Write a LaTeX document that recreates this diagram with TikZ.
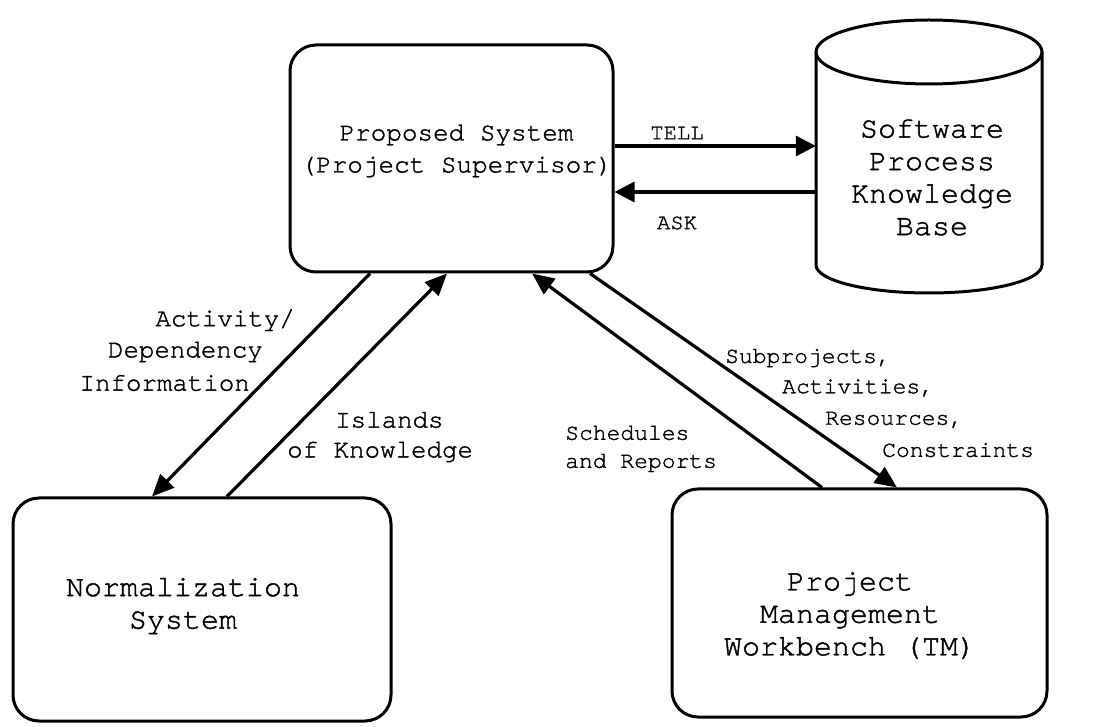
\documentclass[tikz,border=0pt]{standalone}
\usepackage{fontspec}
\setmonofont[FakeBold=1.3]{TeX Gyre Cursor}
\usetikzlibrary{arrows.meta}
\begin{document}
\begin{tikzpicture}[x=1pt,y=1pt,
  box/.style={draw, line width=3pt, rounded corners=26pt, inner sep=0pt},
  conn/.style={line width=3.2pt, -{Triangle[length=22pt,width=19pt]}},
  boxtext/.style={inner sep=0pt, align=center, font=\ttfamily\fontsize{30}{32.5}\selectfont},
  lbl/.style={inner sep=0pt, font=\ttfamily\fontsize{25.8}{32}\selectfont},
  smalllbl/.style={inner sep=0pt, font=\ttfamily\fontsize{23}{30}\selectfont}]
\useasboundingbox (0,0) rectangle (1103,726);

% boxes
\node[box, minimum width=323pt, minimum height=227pt] (ps) at (451.5,567.5) {};
\node[boxtext, font=\ttfamily\fontsize{26}{32}\selectfont] (pstext) at (456.5,575)
  {Proposed System\\(Project Supervisor)};

\node[box, minimum width=378pt, minimum height=223pt] (ns) at (202,116.5) {};
\node[boxtext] (nstext) at (183,120) {Normalization\\System};

\node[box, minimum width=375pt, minimum height=228pt] (pm) at (859.5,123) {};
\node[boxtext] (pmtext) at (850,110.5) {Project\\Management\\Workbench (TM)};

% knowledge base cylinder
\node[inner sep=0pt, minimum width=226pt, minimum height=272pt] (kb) at (929,569) {};
\draw[line width=3pt] (816,674) -- (816,461)
  arc[start angle=180, end angle=360, x radius=113, y radius=28] -- (1042,674);
\draw[line width=3pt] (929,674) ellipse[x radius=113, y radius=32];
\node[boxtext] (kbtext) at (932,548.5) {Software\\Process\\Knowledge\\Base};

% TELL / ASK
\coordinate (tellA) at ([yshift=12.5pt]ps.east);
\coordinate (askA) at ([yshift=-33.5pt]ps.east);
\draw[conn, -{Triangle[length=20pt,width=20pt]}] (tellA) -- (tellA -| kb.west);
\draw[conn, -{Triangle[length=20pt,width=20pt]}] (askA -| kb.west) -- (askA);
\node[smalllbl, font=\ttfamily\fontsize{22.2}{28}\selectfont] (tell) at (677,593) {TELL};
\node[smalllbl, font=\ttfamily\fontsize{22.2}{28}\selectfont] (ask) at (677,503) {ASK};

% diagonal flows
\draw[conn] ([xshift=-81.5pt]ps.south) -- ([xshift=-50pt]ns.north);
\draw[conn] ([xshift=25pt]ns.north) -- ([xshift=-4.5pt]ps.south);
\draw[conn] ([xshift=-37.5pt]pm.north) -- ([xshift=80.5pt]ps.south);
\draw[conn] ([xshift=138.5pt]ps.south) -- ([xshift=37.5pt]pm.north);

% flow labels
\node[lbl, anchor=east] (act1) at (295,406) {Activity/};
\node[lbl, anchor=east] (act2) at (263,374) {Dependency};
\node[lbl, anchor=east] (act3) at (250,343) {Information};

\node[lbl, anchor=west] (isl1) at (335,306) {Islands};
\node[lbl, anchor=west] (isl2) at (287,274) {of Knowledge};

\node[smalllbl, anchor=west] (sch1) at (565,293) {Schedules};
\node[smalllbl, anchor=west] (sch2) at (565,263) {and Reports};

\node[smalllbl, anchor=west] (sub1) at (725,368) {Subprojects,};
\node[smalllbl, anchor=west] (sub2) at (782,338) {Activities,};
\node[smalllbl, anchor=west] (sub3) at (825,306) {Resources,};
\node[smalllbl, anchor=west] (sub4) at (882,276) {Constraints};
\end{tikzpicture}
\end{document}
